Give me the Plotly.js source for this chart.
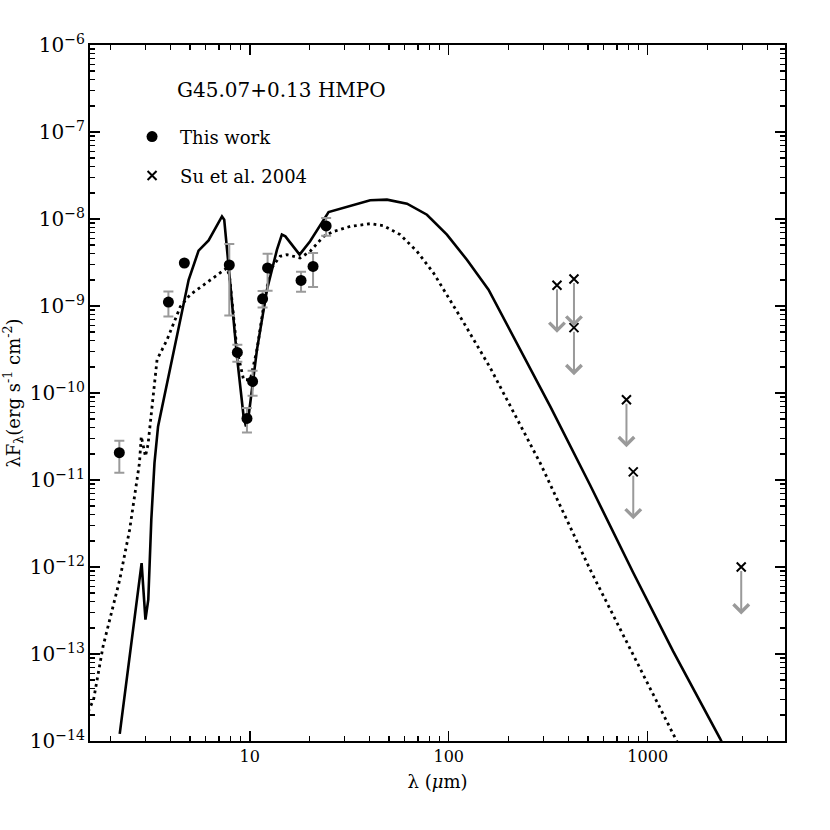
<!DOCTYPE html>
<html>
<head>
<meta charset="utf-8">
<script src="https://cdn.plot.ly/plotly-3.0.1.min.js"></script>
<style>html,body{margin:0;padding:0;background:#fff;}</style>
</head>
<body>
<div id="chart" style="width:830px;height:830px;"></div>
<script>
// Model SED 1 (solid)
const solidWave = [2.22, 2.86, 2.99, 3.09, 3.20, 3.32, 3.46, 4.93, 5.53, 6.21, 7.25, 7.44, 7.83, 8.62, 9.31, 9.57, 9.86, 10.87, 12.2, 13.7, 14.5, 15.1, 17.8, 20.1, 24.9, 32.0, 40.3, 48.9, 61.7, 77.7, 97.9, 123.4, 158.5, 323.6, 514, 846, 1343, 2314, 2450];
const solidFlux = [1.21e-14, 1.11e-12, 2.48e-13, 4.21e-13, 3.5e-12, 1.57e-11, 4.13e-11, 2.0e-9, 4.33e-9, 5.68e-9, 1.07e-8, 9.82e-9, 2.85e-9, 2.64e-10, 5.38e-11, 4.13e-11, 5.38e-11, 3.15e-10, 1.54e-9, 4.44e-9, 6.61e-9, 6.31e-9, 3.89e-9, 5.54e-9, 1.20e-8, 1.40e-8, 1.64e-8, 1.67e-8, 1.50e-8, 1.12e-8, 6.61e-9, 3.40e-9, 1.54e-9, 7.0e-11, 8.71e-12, 8.59e-13, 1.07e-13, 1.06e-14, 8.1e-15];

// Model SED 2 (dotted)
const dottedWave = [1.54, 1.64, 1.83, 2.22, 2.49, 2.79, 2.85, 2.99, 3.08, 3.32, 3.42, 3.84, 4.48, 5.02, 7.68, 7.91, 8.62, 9.31, 10.06, 10.87, 11.73, 12.68, 14.2, 15.4, 17.9, 20.1, 23.5, 26.4, 32.0, 40.3, 47.0, 57.0, 69.2, 83.9, 101.7, 116.5, 161.6, 288, 514, 917, 1375, 1450];
const dottedFlux = [2.17e-14, 2.98e-14, 1.22e-13, 7.14e-13, 2.68e-12, 1.57e-11, 3.17e-11, 1.87e-11, 2.55e-11, 1.42e-10, 2.42e-10, 4.1e-10, 9.88e-10, 1.35e-9, 2.74e-9, 2.19e-9, 3.15e-10, 1.42e-10, 1.42e-10, 3.15e-10, 9.88e-10, 2.61e-9, 3.72e-9, 3.89e-9, 3.56e-9, 4.25e-9, 6.31e-9, 7.19e-9, 8.22e-9, 8.83e-9, 8.38e-9, 6.61e-9, 4.25e-9, 2.39e-9, 1.18e-9, 6.96e-10, 1.95e-10, 1.57e-11, 9.3e-13, 6.6e-14, 1.08e-14, 8.5e-15];

// This work: photometry with error bars
const obsWave  = [2.21, 3.9, 4.69, 7.89, 8.66, 9.68, 10.33, 11.6, 12.29, 18.1, 20.8, 24.2];
const obsFlux  = [2.06e-11, 1.11e-9, 3.12e-9, 2.96e-9, 2.93e-10, 5.1e-11, 1.36e-10, 1.21e-9, 2.74e-9, 1.97e-9, 2.85e-9, 8.32e-9];
const obsUpper = [2.83e-11, 1.47e-9, null, 5.17e-9, 3.59e-10, 6.73e-11, 1.80e-10, 1.49e-9, 3.99e-9, 2.48e-9, 4.06e-9, 1.03e-8];
const obsLower = [1.21e-11, 7.58e-10, null, 7.8e-10, 2.29e-10, 3.52e-11, 9.31e-11, 9.64e-10, 1.5e-9, 1.46e-9, 1.65e-9, 6.43e-9];

// Su et al. 2004: upper limits
const suWave = [350, 426, 426, 782, 846, 2951];
const suFlux = [1.73e-9, 2.04e-9, 5.64e-10, 8.37e-11, 1.24e-11, 1.0e-12];

const serif = 'DejaVu Serif, Liberation Serif, serif';
const gray = '#9a9a9a';
const xRange = [0.197, 3.69];
const yRange = [-14, -6];

const errPlus = obsFlux.map((v, i) => obsUpper[i] == null ? 0 : obsUpper[i] - v);
const errMinus = obsFlux.map((v, i) => obsLower[i] == null ? 0 : v - obsLower[i]);

// minor tick positions (2..9 in each decade)
function minorVals(lo, hi) {
  const out = [];
  for (let e = lo; e <= hi; e++) for (let m = 2; m <= 9; m++) out.push(m * Math.pow(10, e));
  return out;
}

const traces = [
  {x: [], y: [], xaxis: 'x2', yaxis: 'y2', mode: 'markers', showlegend: false, hoverinfo: 'skip'},
  {x: dottedWave, y: dottedFlux, mode: 'lines', showlegend: false, hoverinfo: 'skip',
   line: {color: 'black', width: 2.8, dash: '2.8px,3.8px'}},
  {x: solidWave, y: solidFlux, mode: 'lines', showlegend: false, hoverinfo: 'skip',
   line: {color: 'black', width: 2.6}},
  {x: obsWave, y: obsFlux, mode: 'markers', showlegend: false,
   marker: {size: 10, color: 'black', opacity: 0},
   error_y: {type: 'data', symmetric: false, array: errPlus, arrayminus: errMinus,
             color: gray, thickness: 2, width: 5}},
  {x: obsWave, y: obsFlux, mode: 'markers', name: 'This work', legend: 'legend',
   marker: {size: 11, color: 'black', symbol: 'circle'}},
  {x: suWave, y: suFlux, mode: 'markers', name: 'Su et al. 2004', legend: 'legend2',
   marker: {size: 9, color: 'black', symbol: 'x-thin-open', line: {color: 'black', width: 2}}}
];

const annotations = suWave.map((w, i) => ({
  x: Math.log10(w), y: Math.log10(suFlux[i]), xref: 'x', yref: 'y',
  text: '', showarrow: true, ax: 0, ay: 49, axref: 'pixel', ayref: 'pixel',
  arrowside: 'start', startarrowhead: 4, startarrowsize: 1.5, arrowwidth: 2,
  arrowcolor: gray, standoff: 4
}));
annotations.push({
  x: 0.1223, y: 0.935, xref: 'paper', yref: 'paper', xanchor: 'left', yanchor: 'middle',
  text: 'G45.07+0.13 HMPO', showarrow: false,
  font: {family: serif, size: 20, color: 'black'}
});

const axisCommon = {
  type: 'log', dtick: 1, ticks: 'inside', ticklen: 10, tickwidth: 1.5, tickcolor: 'black',
  mirror: 'allticks', showline: true, linewidth: 2, linecolor: 'black',
  showgrid: false, zeroline: false,
  tickfont: {family: serif, size: 16, color: 'black'}
};

const minorAxis = {
  type: 'log', tickmode: 'array', ticks: 'inside', ticklen: 5, tickwidth: 1.5, tickcolor: 'black',
  mirror: 'allticks', showline: false, showgrid: false, zeroline: false, showticklabels: false
};

const legendCommon = {
  xanchor: 'left', yanchor: 'middle', bgcolor: 'rgba(0,0,0,0)', borderwidth: 0,
  font: {family: serif, size: 18, color: 'black'}, itemwidth: 46
};

const layout = {
  width: 830, height: 830,
  margin: {l: 90, r: 45, t: 45, b: 89},
  paper_bgcolor: 'white', plot_bgcolor: 'white',
  xaxis: Object.assign({}, axisCommon, {
    range: xRange, exponentformat: 'none',
    title: {text: 'λ (<i>μ</i>m)', font: {family: serif, size: 18, color: 'black'}, standoff: 10}
  }),
  yaxis: Object.assign({}, axisCommon, {
    range: yRange, exponentformat: 'power', showexponent: 'all',
    title: {text: 'λF<sub>λ</sub>(erg s<sup>-1</sup> cm<sup>-2</sup>)',
            font: {family: serif, size: 18, color: 'black'}, standoff: 8}
  }),
  xaxis2: Object.assign({}, minorAxis, {overlaying: 'x', anchor: 'y2', side: 'bottom',
    range: xRange, tickvals: minorVals(0, 3)}),
  yaxis2: Object.assign({}, minorAxis, {overlaying: 'y', anchor: 'x2', side: 'left',
    range: yRange, tickvals: minorVals(-14, -7)}),
  legend: Object.assign({}, legendCommon, {x: 0.049, y: 0.868}),
  legend2: Object.assign({}, legendCommon, {x: 0.049, y: 0.812}),
  annotations: annotations
};

Plotly.newPlot('chart', traces, layout, {displayModeBar: false, staticPlot: true});
</script>
</body>
</html>
